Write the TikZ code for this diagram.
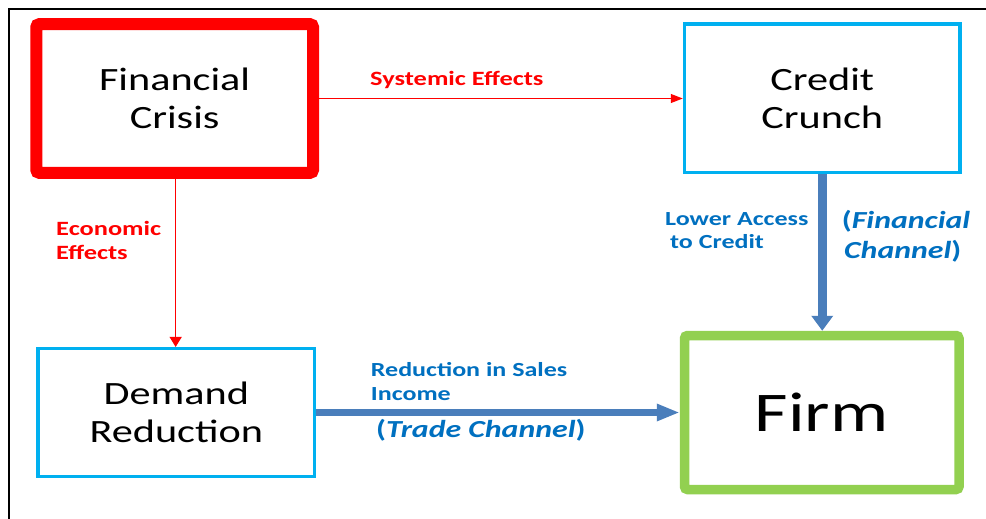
\documentclass[tikz,border=0pt]{standalone}
\usepackage{fontspec}
\setmainfont{Carlito}[FakeStretch=1.3]
\usetikzlibrary{arrows.meta}
\definecolor{cyanbox}{HTML}{00B0F0}
\definecolor{greenbox}{HTML}{92D050}
\definecolor{bluearrow}{HTML}{4A7EBB}
\definecolor{bluetext}{HTML}{0070C0}
\definecolor{redc}{HTML}{FF0000}
\tikzset{
  boxtext/.style={align=center, font=\fontsize{32.5}{38.5}\selectfont, text=black, inner sep=0pt},
  redlabel/.style={anchor=base west, inner sep=0pt, text=redc, font=\fontsize{20.3}{24}\selectfont\bfseries},
  bluelabel/.style={anchor=base west, inner sep=0pt, text=bluetext, font=\fontsize{20}{24}\selectfont\bfseries},
  chanlabel/.style={anchor=base west, inner sep=0pt, text=bluetext, font=\fontsize{24.5}{30}\selectfont\bfseries},
  redarrow/.style={draw=redc, line width=1.2pt},
  bluearr/.style={draw=bluearrow},
}
\begin{document}
\begin{tikzpicture}[x=1pt,y=-1pt]
\useasboundingbox[fill=white] (0,0) rectangle (986,519);
% frame
\draw[line width=2pt, black] (986,9.5) -- (9,9.5) -- (9,519);
% boxes
\node[boxtext, draw=redc, line width=12pt, rounded corners=3pt,
      minimum width=276.7pt, minimum height=148.6pt] (fc) at (174.65,98.5) {Financial\\Crisis};
\node[boxtext, draw=cyanbox, line width=3.5pt,
      minimum width=275.5pt, minimum height=148.5pt] (cc) at (822.25,98.25) {Credit\\Crunch};
\node[boxtext, draw=cyanbox, line width=3.5pt,
      minimum width=276.7pt, minimum height=127.6pt] (dr) at (176.35,412.5) {Demand\\Reduction};
\node[boxtext, draw=greenbox, line width=9.5pt, rounded corners=3pt,
      minimum width=274.5pt, minimum height=154pt, font=\fontsize{56}{60}\selectfont] (firm) at (821.75,412.5) {Firm};
% connectors
\draw[redarrow, -{Triangle[length=12pt,width=9pt]}] (fc.east) -- (fc.east -| cc.west);
\draw[redarrow, -{Triangle[length=10pt,width=12pt]}] ([xshift=1pt]fc.south) -- ([xshift=1pt]fc.south |- dr.north);
\draw[bluearr, line width=8.5pt, -{Triangle[length=15pt,width=21pt]}] (cc.south) -- (cc.south |- firm.north);
\draw[bluearr, line width=6.5pt, -{Triangle[length=23pt,width=16pt]}] (dr.east) -- (dr.east -| firm.west);
% labels
\node[redlabel] (sys) at (370,86) {Systemic Effects};
\node[redlabel] (eco1) at (56,235) {Economic};
\node[redlabel] (eco2) at (56,259.3) {Effects};
\node[bluelabel] (low1) at (665,225) {Lower Access};
\node[bluelabel] (low2) at (670,248.3) {to Credit};
\node[chanlabel] (fin1) at (841.7,228.3) {(\textit{Financial}};
\node[chanlabel] (fin2) at (844,258.3) {\textit{Channel})};
\node[bluelabel] (red1) at (370.7,376.7) {Reduction in Sales};
\node[bluelabel] (red2) at (370.7,400) {Income};
\node[chanlabel] (trade) at (376,437.3) {(\textit{Trade Channel})};
\end{tikzpicture}
\end{document}
